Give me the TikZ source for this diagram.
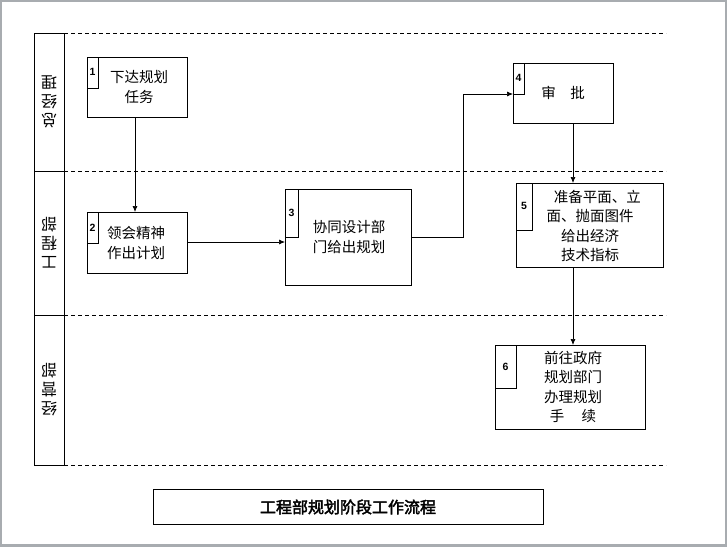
\documentclass[tikz,border=0pt]{standalone}
\usepackage{fontspec}
\newfontfamily\cjk{Noto Sans CJK SC}
\newfontfamily\cjkb{Noto Sans CJK SC}[FakeBold=2.5]
\newfontfamily\numfont{Liberation Sans}
\usetikzlibrary{arrows.meta}
\definecolor{framegray}{RGB}{168,172,176}
\tikzset{
  px/.style={x=1pt,y=-1pt},
  boxst/.style={draw,line width=0.8pt},
  numst/.style={font=\numfont\bfseries\fontsize{10.5}{10.5}\selectfont,inner sep=0pt},
  txt/.style={font=\cjk\fontsize{14.5}{19.5}\selectfont,align=center,inner sep=0pt},
  lanetxt/.style={font=\cjk\fontsize{16}{19}\selectfont,align=center,inner sep=0pt,rotate=180},
  dash line/.style={dash pattern=on 4pt off 3pt,line width=0.8pt},
  arr/.style={-{Latex[length=6pt,width=5pt]},line width=0.7pt}
}
\begin{document}
\begin{tikzpicture}[px]
\useasboundingbox (0,0) rectangle (727,546);
\fill[white] (0,0) rectangle (727,546);
\draw[framegray,line width=4pt] (0,0) rectangle (727,546);
% lane label column
\draw[line width=0.8pt] (34,33) rectangle (64,465);
\draw[line width=0.8pt] (34,171) -- (64,171);
\draw[line width=0.8pt] (34,315) -- (64,315);
\coordinate (d1a) at (64,33);  \coordinate (d1b) at (666,33);
\coordinate (d2a) at (64,171); \coordinate (d2b) at (666,171);
\coordinate (d3a) at (64,315); \coordinate (d3b) at (666,315);
\coordinate (d4a) at (64,465); \coordinate (d4b) at (666,465);
\draw[dash line] (d1a) -- (d1b);
\draw[dash line] (d2a) -- (d2b);
\draw[dash line] (d3a) -- (d3b);
\draw[dash line] (d4a) -- (d4b);
\node[lanetxt] (l1) at (49,102) {总\\经\\理};
\node[lanetxt] (l2) at (49,243) {工\\程\\部};
\node[lanetxt] (l3) at (49,390) {经\\营\\部};
% boxes
\draw[boxst] (87,57) rectangle (187,117); \draw[boxst] (87,57) rectangle (98,88);
\node[numst] (n1) at (92.5,72) {1};
\node[txt] (t1) at (139,87) {下达规划\\任务};

\draw[boxst] (87,212) rectangle (187,273); \draw[boxst] (87,212) rectangle (98,243);
\node[numst] (n2) at (92.5,228) {2};
\node[txt] (t2) at (136,243) {领会精神\\作出计划};

\draw[boxst] (285,189) rectangle (411,285); \draw[boxst] (285,189) rectangle (298,237);
\node[numst] (n3) at (291.5,213) {3};
\node[txt] (t3) at (349,237) {协同设计部\\门给出规划};

\draw[boxst] (513,63) rectangle (613,123); \draw[boxst] (513,63) rectangle (524,94);
\node[numst] (n4) at (518.5,78) {4};
\node[txt] (t4) at (563,93) {审\hspace{1em}批};

\draw[boxst] (516,183) rectangle (663,267); \draw[boxst] (516,183) rectangle (532,230);
\node[numst] (n5) at (524,206) {5};
\node[txt] (t5) at (590,226) {\hspace*{1em}准备平面、立\\面、抛面图件\\给出经济\\技术指标};

\draw[boxst] (495,345) rectangle (645,429); \draw[boxst] (495,345) rectangle (516,388);
\node[numst] (n6) at (505.5,367) {6};
\node[txt] (t6) at (573,387) {前往政府\\规划部门\\办理规划\\手\hspace{1.2em}续};

% connectors
\coordinate (a1s) at (135,117); \coordinate (a1e) at (135,212);
\draw[arr] (a1s) -- (a1e);
\coordinate (a2s) at (187,242); \coordinate (a2e) at (285,242);
\draw[arr] (a2s) -- (a2e);
\coordinate (a3s) at (411,237); \coordinate (a3e) at (513,94);
\draw[arr] (a3s) -- (463,237) -- (463,94) -- (a3e);
\coordinate (a4s) at (573,123); \coordinate (a4e) at (573,183);
\draw[arr] (a4s) -- (a4e);
\coordinate (a5s) at (573,267); \coordinate (a5e) at (573,345);
\draw[arr] (a5s) -- (a5e);

% title
\draw[line width=0.8pt] (153,489) rectangle (543,524);
\node[font=\cjkb\fontsize{16}{16}\selectfont,inner sep=0pt] (title) at (348,507) {工程部规划阶段工作流程};
\end{tikzpicture}
\end{document}
